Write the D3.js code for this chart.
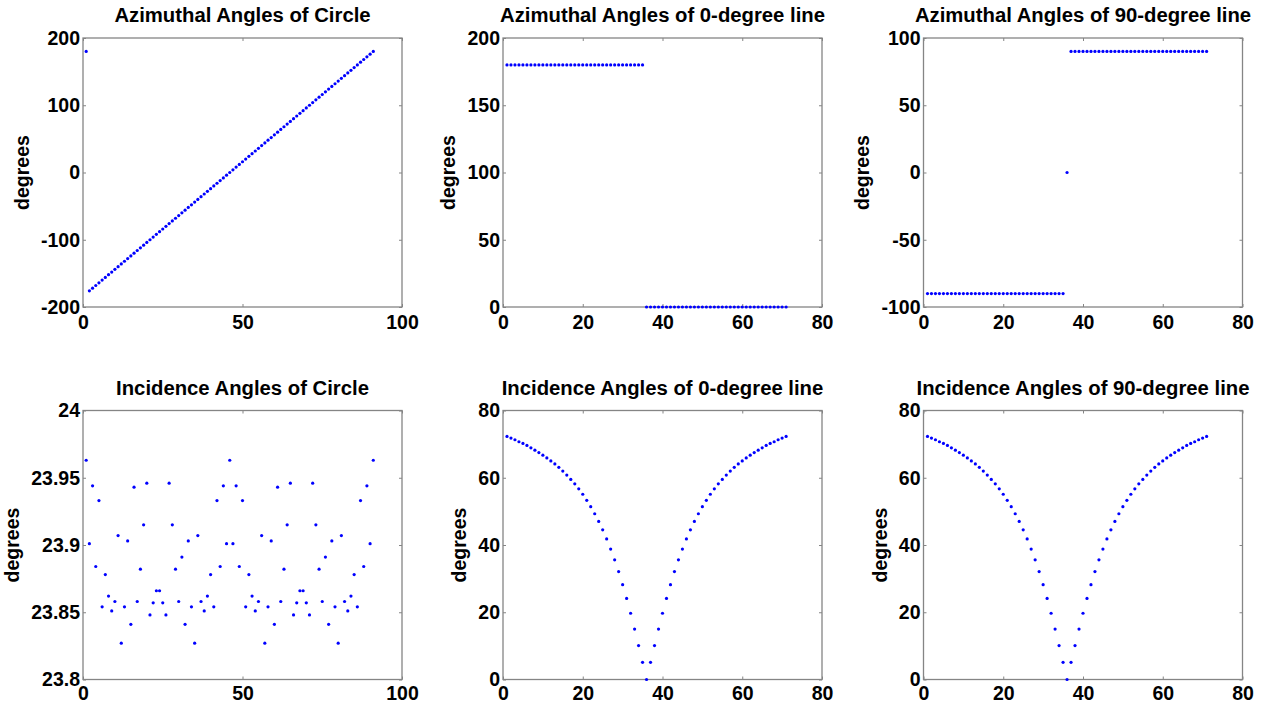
<!DOCTYPE html>
<html lang="en">
<head>
<meta charset="UTF-8">
<title>Azimuthal and Incidence Angles</title>
<script src="https://cdn.jsdelivr.net/npm/d3@7"></script>
<style>
    body { margin: 0; background: #fff; }
    svg text { font-family: Arial, "Liberation Sans", sans-serif; font-weight: bold; fill: #000; }
</style>
</head>
<body>
<svg width="1269" height="706"></svg>
<script>
// values, x is the sample index (1..n)
const azCircle = [180, -176, -172, -168, -164, -160, -156, -152, -148, -144,
    -140, -136, -132, -128, -124, -120, -116, -112, -108, -104,
    -100, -96, -92, -88, -84, -80, -76, -72, -68, -64,
    -60, -56, -52, -48, -44, -40, -36, -32, -28, -24,
    -20, -16, -12, -8, -4, 0, 4, 8, 12, 16,
    20, 24, 28, 32, 36, 40, 44, 48, 52, 56,
    60, 64, 68, 72, 76, 80, 84, 88, 92, 96,
    100, 104, 108, 112, 116, 120, 124, 128, 132, 136,
    140, 144, 148, 152, 156, 160, 164, 168, 172, 176,
    180];

const az0 = [180, 180, 180, 180, 180, 180, 180, 180, 180, 180,
    180, 180, 180, 180, 180, 180, 180, 180, 180, 180,
    180, 180, 180, 180, 180, 180, 180, 180, 180, 180,
    180, 180, 180, 180, 180, 0, 0, 0, 0, 0,
    0, 0, 0, 0, 0, 0, 0, 0, 0, 0,
    0, 0, 0, 0, 0, 0, 0, 0, 0, 0,
    0, 0, 0, 0, 0, 0, 0, 0, 0, 0,
    0];

const az90 = [-90, -90, -90, -90, -90, -90, -90, -90, -90, -90,
    -90, -90, -90, -90, -90, -90, -90, -90, -90, -90,
    -90, -90, -90, -90, -90, -90, -90, -90, -90, -90,
    -90, -90, -90, -90, -90, 0, 90, 90, 90, 90,
    90, 90, 90, 90, 90, 90, 90, 90, 90, 90,
    90, 90, 90, 90, 90, 90, 90, 90, 90, 90,
    90, 90, 90, 90, 90, 90, 90, 90, 90, 90,
    90];

const incCircle = [23.963, 23.901, 23.944, 23.884, 23.933, 23.854, 23.878, 23.862, 23.851, 23.858,
    23.907, 23.827, 23.854, 23.903, 23.841, 23.943, 23.858, 23.882, 23.915, 23.946,
    23.848, 23.857, 23.866, 23.866, 23.857, 23.848, 23.946, 23.915, 23.882, 23.858,
    23.891, 23.841, 23.903, 23.854, 23.827, 23.907, 23.858, 23.851, 23.862, 23.878,
    23.854, 23.933, 23.884, 23.944, 23.901, 23.963, 23.901, 23.944, 23.884, 23.933,
    23.854, 23.878, 23.862, 23.851, 23.858, 23.907, 23.827, 23.854, 23.903, 23.841,
    23.943, 23.858, 23.882, 23.915, 23.946, 23.848, 23.857, 23.866, 23.866, 23.857,
    23.848, 23.946, 23.915, 23.882, 23.858, 23.891, 23.841, 23.903, 23.854, 23.827,
    23.907, 23.858, 23.851, 23.862, 23.878, 23.854, 23.933, 23.884, 23.944, 23.901,
    23.963];

const inc0 = [72.3, 71.8, 71.3, 70.7, 70.2, 69.6, 68.9, 68.2, 67.5, 66.7,
    65.9, 65.0, 64.1, 63.1, 62.0, 60.8, 59.5, 58.2, 56.7, 55.1,
    53.3, 51.4, 49.3, 47.0, 44.5, 41.8, 38.8, 35.6, 32.1, 28.2,
    24.1, 19.7, 15.0, 10.1, 5.1, 0, 5.1, 10.1, 15.0, 19.7,
    24.1, 28.2, 32.1, 35.6, 38.8, 41.8, 44.5, 47.0, 49.3, 51.4,
    53.3, 55.1, 56.7, 58.2, 59.5, 60.8, 62.0, 63.1, 64.1, 65.0,
    65.9, 66.7, 67.5, 68.2, 68.9, 69.6, 70.2, 70.7, 71.3, 71.8,
    72.3];

const inc90 = [72.3, 71.8, 71.3, 70.7, 70.2, 69.6, 68.9, 68.2, 67.5, 66.7,
    65.9, 65.0, 64.1, 63.1, 62.0, 60.8, 59.5, 58.2, 56.7, 55.1,
    53.3, 51.4, 49.3, 47.0, 44.5, 41.8, 38.8, 35.6, 32.1, 28.2,
    24.1, 19.7, 15.0, 10.1, 5.1, 0, 5.1, 10.1, 15.0, 19.7,
    24.1, 28.2, 32.1, 35.6, 38.8, 41.8, 44.5, 47.0, 49.3, 51.4,
    53.3, 55.1, 56.7, 58.2, 59.5, 60.8, 62.0, 63.1, 64.1, 65.0,
    65.9, 66.7, 67.5, 68.2, 68.9, 69.6, 70.2, 70.7, 71.3, 71.8,
    72.3];

// tick values
const xTicks100 = [0, 50, 100];
const xTicks80 = [0, 20, 40, 60, 80];
const yTicksAzCircle = [-200, -100, 0, 100, 200];
const yTicksAz0 = [0, 50, 100, 150, 200];
const yTicksAz90 = [-100, -50, 0, 50, 100];
const yTicksIncCircle = [23.8, 23.85, 23.9, 23.95, 24];
const yTicksInc = [0, 20, 40, 60, 80];

const titles = [
    "Azimuthal Angles of Circle", "Azimuthal Angles of 0-degree line", "Azimuthal Angles of 90-degree line",
    "Incidence Angles of Circle", "Incidence Angles of 0-degree line", "Incidence Angles of 90-degree line"
];

const panels = [
    {title: titles[0], values: azCircle, xTicks: xTicks100, yTicks: yTicksAzCircle, col: 0, row: 0},
    {title: titles[1], values: az0, xTicks: xTicks80, yTicks: yTicksAz0, col: 1, row: 0},
    {title: titles[2], values: az90, xTicks: xTicks80, yTicks: yTicksAz90, col: 2, row: 0},
    {title: titles[3], values: incCircle, xTicks: xTicks100, yTicks: yTicksIncCircle, col: 0, row: 1},
    {title: titles[4], values: inc0, xTicks: xTicks80, yTicks: yTicksInc, col: 1, row: 1},
    {title: titles[5], values: inc90, xTicks: xTicks80, yTicks: yTicksInc, col: 2, row: 1}
];

const svg = d3.select("svg");
const colX = [83, 503, 923.5];
const rowY = [38, 410.5];
const pw = 319, ph = 269;
const frameColor = "#858585";
const fmt = d => String(+d.toFixed(2));

panels.forEach(p => {
    const g = svg.append("g")
        .attr("transform", `translate(${colX[p.col]},${rowY[p.row]})`);

    const x = d3.scaleLinear()
        .domain(d3.extent(p.xTicks))
        .range([0, pw]);
    const y = d3.scaleLinear()
        .domain(d3.extent(p.yTicks))
        .range([ph, 0]);

    g.append("rect")
        .attr("width", pw)
        .attr("height", ph)
        .attr("fill", "#fff");

    // inward ticks on all four sides, like matlab
    g.append("g")
        .attr("transform", `translate(0,${ph})`)
        .call(d3.axisBottom(x).tickValues(p.xTicks).tickSize(-3).tickPadding(p.row === 0 ? 8 : 7).tickFormat(fmt));
    const yl = g.append("g")
        .call(d3.axisLeft(y).tickValues(p.yTicks).tickSize(-3).tickPadding(3).tickFormat(fmt));
    g.append("g")
        .call(d3.axisTop(x).tickValues(p.xTicks).tickSize(-3).tickFormat(""));
    g.append("g")
        .attr("transform", `translate(${pw},0)`)
        .call(d3.axisRight(y).tickValues(p.yTicks).tickSize(-3).tickFormat(""));

    g.selectAll(".domain").remove();
    g.selectAll(".tick line").attr("stroke", frameColor);
    g.selectAll(".tick text")
        .attr("font-size", "19.5px")
        .attr("font-family", null)
        .attr("fill", "#000");

    g.append("rect")
        .attr("width", pw)
        .attr("height", ph)
        .attr("fill", "none")
        .attr("stroke", frameColor)
        .attr("stroke-width", 1.3);

    g.selectAll(".pt")
        .data(p.values)
        .enter().append("circle")
        .attr("class", "pt")
        .attr("cx", (d, i) => x(i + 1))
        .attr("cy", d => y(d))
        .attr("r", 1.6)
        .attr("fill", "#0000ff");

    g.append("text")
        .attr("x", pw / 2)
        .attr("y", -16)
        .attr("text-anchor", "middle")
        .attr("font-size", "20.3px")
        .text(p.title);

    // y label sits just left of the widest tick label
    let minX = 0;
    yl.selectAll(".tick text").each(function() {
        minX = Math.min(minX, this.getBBox().x);
    });
    g.append("text")
        .attr("transform", `translate(${minX - 12},${ph / 2}) rotate(-90)`)
        .attr("text-anchor", "middle")
        .attr("font-size", "19.5px")
        .text("degrees");
});
</script>
</body>
</html>
